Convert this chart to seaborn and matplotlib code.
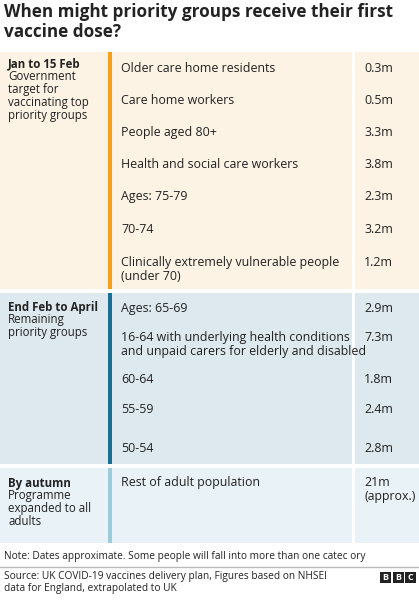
import matplotlib
matplotlib.use("Agg")
import matplotlib.pyplot as plt
import seaborn as sns
from matplotlib.patches import Rectangle

sns.set_theme(style="white")
plt.rcParams['font.family'] = ['Open Sans', 'DejaVu Sans']

phases = ["Jan to 15 Feb", "End Feb to April", "By autumn"]
phase_desc = ["Government\ntarget for\nvaccinating top\npriority groups",
              "Remaining\npriority groups",
              "Programme\nexpanded to all\nadults"]
groups = [
    ["Older care home residents", "Care home workers", "People aged 80+",
     "Health and social care workers", "Ages: 75-79", "70-74",
     "Clinically extremely vulnerable people\n(under 70)"],
    ["Ages: 65-69", "16-64 with underlying health conditions\nand unpaid carers for elderly and disabled",
     "60-64", "55-59", "50-54"],
    ["Rest of adult population"],
]
values = [
    ["0.3m", "0.5m", "3.3m", "3.8m", "2.3m", "3.2m", "1.2m"],
    ["2.9m", "7.3m", "1.8m", "2.4m", "2.8m"],
    ["21m\n(approx.)"],
]
# layout (pixels)
sec_bounds = [(52, 289), (293, 464), (468, 543)]
row_y = [[69, 101, 133, 165, 197, 230, 263], [309, 338, 380, 410, 449], [483]]
label_y = [64, 307, 483]
bg = ["#fdf3e4", "#dde9ef", "#e9f2f6"]
bar = ["#f79e1b", "#1b6f95", "#9ccbdc"]

fig = plt.figure(figsize=(4.19, 6.0), dpi=100)
ax = fig.add_axes([0, 0, 1, 1])
ax.set_xlim(0, 419); ax.set_ylim(600, 0); ax.axis("off")

ax.text(4, 3, "When might priority groups receive their first\nvaccine dose?",
        fontsize=12.3, fontweight="bold", va="top", ha="left", color="#222222", linespacing=1.15)

fs = 8.3
fs2 = 8.9
for i in range(3):
    y0, y1 = sec_bounds[i]
    ax.add_patch(Rectangle((0, y0), 352, y1 - y0, color=bg[i], lw=0))
    ax.add_patch(Rectangle((355, y0), 64, y1 - y0, color=bg[i], lw=0))
    ax.add_patch(Rectangle((108, y0), 4, y1 - y0, color=bar[i], lw=0))
    ly = label_y[i]
    ax.text(8, ly, phases[i], fontsize=fs, fontweight="bold", va="center", color="#222222")
    ax.text(8, ly + 6, phase_desc[i], fontsize=fs, va="top", color="#222222", linespacing=1.0)
    for g, v, y in zip(groups[i], values[i], row_y[i]):
        ax.text(121, y - 7, g, fontsize=fs2, va="top", color="#222222", linespacing=1.1)
        ax.text(364, y - 7, v, fontsize=fs2, va="top", color="#222222", linespacing=1.1)

ax.text(4, 557, "Note: Dates approximate. Some people will fall into more than one catec ory",
        fontsize=7.3, va="center", color="#222222")
ax.plot([0, 419], [567, 567], color="#bbbbbb", lw=1)
ax.text(4, 571, "Source: UK COVID-19 vaccines delivery plan, Figures based on NHSEI\ndata for England, extrapolated to UK",
        fontsize=7.3, va="top", color="#222222", linespacing=1.1)
for k, ch in enumerate("BBC"):
    ax.add_patch(Rectangle((380 + k * 12.5, 572), 11, 11, color="#222222", lw=0))
    ax.text(385.5 + k * 12.5, 578, ch, fontsize=6.5, fontweight="bold", color="white", ha="center", va="center")

fig.savefig("out.png", dpi=100)
